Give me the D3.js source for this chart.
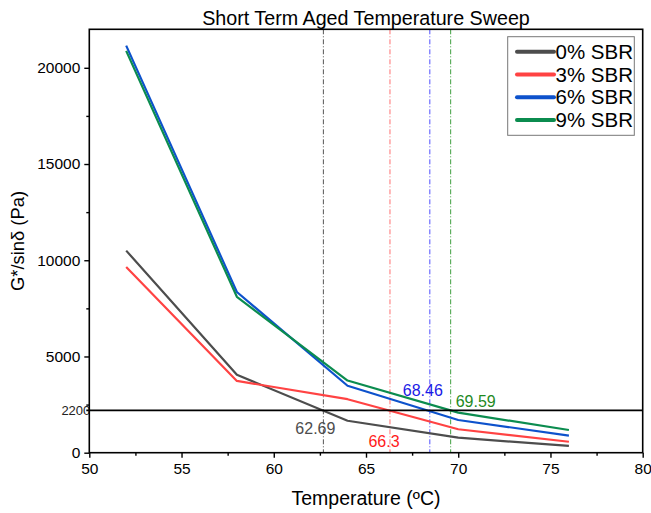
<!DOCTYPE html>
<html>
<head>
<meta charset="utf-8">
<script src="https://cdn.jsdelivr.net/npm/d3@7"></script>
<style>
  body { margin: 0; background: #fff; }
  svg { font-family: "Liberation Sans", Arial, sans-serif; }
</style>
</head>
<body>
<svg id="chart"></svg>
<script>
// values
var temps = [52, 58, 64, 70, 76];
var sbr0 = [10500, 4050, 1660, 780, 350];
var sbr3 = [9650, 3730, 2780, 1220, 570];
var sbr6 = [21150, 8350, 3480, 1700, 890];
var sbr9 = [20880, 8100, 3750, 2080, 1180];
var seriesNames = ["0% SBR", "3% SBR", "6% SBR", "9% SBR"];
var critTemps = [62.69, 66.3, 68.46, 69.59];
var critLabels = ["62.69", "66.3", "68.46", "69.59"];
var threshold = 2200;
var xTicks = [50, 55, 60, 65, 70, 75, 80];
var yTicks = [0, 5000, 10000, 15000, 20000];

function run() {
  var W = 651, H = 513;
  var left = 89.3, right = 642.7, top = 29.3, bottom = 452.7;

  var lineColors = ["#4d4d4d", "#ff4343", "#0d52cc", "#0b8c4f"];
  var critColors = ["#555555", "#ff7070", "#4f4fff", "#3f9f3f"];
  var critText = ["#4d4d4d", "#ff1a1a", "#1a1ae6", "#1f8a1f"];
  // label offsets relative to the crossing point
  var critOff = [[-8, 18], [-6, 31], [-7, -20], [25, -9]];

  var svg = d3.select("#chart").attr("width", W).attr("height", H);

  var x = d3.scaleLinear().domain([50, 80]).range([left, right]);
  var y = d3.scaleLinear().domain([0, 22000]).range([bottom, top]);

  // title
  svg.append("text")
     .attr("x", 366).attr("y", 25)
     .attr("text-anchor", "middle")
     .style("font-size", "19.7px")
     .text("Short Term Aged Temperature Sweep");

  // vertical dash-dot lines
  svg.selectAll(".crit")
     .data(critTemps)
     .enter()
     .append("line")
     .attr("class", "crit")
     .attr("x1", function(d) { return x(d); })
     .attr("x2", function(d) { return x(d); })
     .attr("y1", top).attr("y2", bottom)
     .style("stroke", function(d, i) { return critColors[i]; })
     .style("stroke-width", 1)
     .style("stroke-dasharray", "5,2,1,2");

  // series
  var series = [sbr0, sbr3, sbr6, sbr9];
  var line = d3.line()
     .x(function(d, i) { return x(temps[i]); })
     .y(function(d) { return y(d); });

  svg.selectAll(".series")
     .data(series)
     .enter()
     .append("path")
     .attr("class", "series")
     .attr("d", line)
     .style("fill", "none")
     .style("stroke", function(d, i) { return lineColors[i]; })
     .style("stroke-width", 2.2)
     .style("stroke-linejoin", "round");

  // threshold line
  svg.append("line")
     .attr("x1", x(50) - 3).attr("x2", x(80))
     .attr("y1", y(threshold)).attr("y2", y(threshold))
     .style("stroke", "#000")
     .style("stroke-width", 1.8);

  svg.append("text")
     .attr("x", x(50) + 1).attr("y", y(threshold) + 4.5)
     .attr("text-anchor", "end")
     .style("font-size", "13px")
     .style("fill", "#222")
     .text(threshold);

  // crossing labels
  svg.selectAll(".critlabel")
     .data(critTemps)
     .enter()
     .append("text")
     .attr("class", "critlabel")
     .attr("x", function(d, i) { return x(d) + critOff[i][0]; })
     .attr("y", function(d, i) { return y(threshold) + critOff[i][1] + 5.5; })
     .attr("text-anchor", "middle")
     .style("font-size", "16px")
     .style("fill", function(d, i) { return critText[i]; })
     .text(function(d, i) { return critLabels[i]; });

  // frame
  svg.append("rect")
     .attr("x", left).attr("y", top)
     .attr("width", right - left).attr("height", bottom - top)
     .style("fill", "none")
     .style("stroke", "#000")
     .style("stroke-width", 1.6);

  // axes
  svg.append("g")
     .attr("transform", "translate(0," + bottom + ")")
     .call(d3.axisBottom(x).tickValues(xTicks).tickSize(5).tickPadding(5).tickFormat(d3.format("d")));
  svg.append("g")
     .attr("transform", "translate(0," + bottom + ")")
     .call(d3.axisBottom(x).tickValues(d3.range(52.5, 80, 5)).tickSize(3).tickFormat(""));

  svg.append("g")
     .attr("transform", "translate(" + left + ",0)")
     .call(d3.axisLeft(y).tickValues(yTicks).tickSize(5).tickPadding(4).tickFormat(d3.format("d")));
  svg.append("g")
     .attr("transform", "translate(" + left + ",0)")
     .call(d3.axisLeft(y).tickValues(d3.range(2500, 22000, 5000)).tickSize(3).tickFormat(""));

  svg.selectAll(".domain").remove();
  svg.selectAll(".tick line").style("stroke", "#000").style("stroke-width", 1.4);
  svg.selectAll(".tick text")
     .style("font-family", "\"Liberation Sans\", Arial, sans-serif")
     .style("font-size", "15.5px")
     .style("fill", "#000");

  // axis titles
  svg.append("text")
     .attr("x", 366).attr("y", 505)
     .attr("text-anchor", "middle")
     .style("font-size", "19.5px")
     .text("Temperature (ºC)");

  svg.append("text")
     .attr("transform", "translate(24,241) rotate(-90)")
     .attr("text-anchor", "middle")
     .style("font-size", "18.4px")
     .text("G*/sinδ (Pa)");

  // legend
  var lg = svg.append("g");
  lg.append("rect")
    .attr("x", 507.7).attr("y", 36.7)
    .attr("width", 126.6).attr("height", 98.6)
    .style("fill", "#fff")
    .style("stroke", "#777")
    .style("stroke-width", 1);

  var items = lg.selectAll(".item")
    .data(seriesNames)
    .enter()
    .append("g")
    .attr("transform", function(d, i) { return "translate(517," + (51.7 + i * 22.8) + ")"; });
  items.append("line")
    .attr("x1", 0).attr("x2", 37)
    .style("stroke", function(d, i) { return lineColors[i]; })
    .style("stroke-width", 4)
    .style("stroke-linecap", "round");
  items.append("text")
    .attr("x", 38.5).attr("y", 7)
    .style("font-size", "20.5px")
    .text(function(d) { return d; });
}
run();
</script>
</body>
</html>
